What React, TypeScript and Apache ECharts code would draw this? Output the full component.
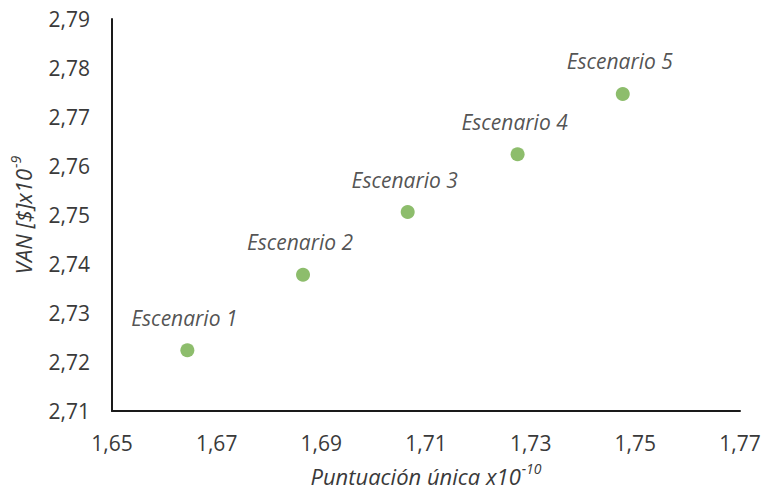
import React, { useEffect, useRef } from "react";
import * as echarts from "echarts";

const scenarios = ["Escenario 1", "Escenario 2", "Escenario 3", "Escenario 4", "Escenario 5"];
const singleScore = [1.6644, 1.6865, 1.7065, 1.7275, 1.7476];
const npv = [2.7224, 2.7378, 2.7506, 2.7624, 2.7747];

const FONT = "'Open Sans', 'Noto Sans', sans-serif";
const TEXT = "#3a3a3a";

const titleRich = {
  t: { fontFamily: FONT, fontSize: 22, fontStyle: "italic", color: TEXT, lineHeight: 26, verticalAlign: "bottom" },
  s: { fontFamily: FONT, fontSize: 14, fontStyle: "italic", color: TEXT, lineHeight: 26, verticalAlign: "top", padding: [0, 0, 0, 1] },
};

export default function App() {
  const ref = useRef<HTMLDivElement>(null);
  useEffect(() => {
    document.body.style.margin = "0";
    const chart = echarts.init(ref.current!, null, { renderer: "svg" });
    chart.setOption({
      animation: false,
      backgroundColor: "#ffffff",
      grid: { left: 112, top: 19, right: 24, bottom: 81, containLabel: false },
      xAxis: {
        type: "value",
        min: 1.65,
        max: 1.77,
        interval: 0.02,
        name: "{t|Puntuación única x10}{s|-10}",
        nameLocation: "middle",
        nameGap: 50,
        nameTextStyle: { rich: titleRich },
        axisLine: { show: true, lineStyle: { color: "#1a1a1a", width: 2 } },
        axisTick: { show: false },
        splitLine: { show: false },
        axisLabel: {
          margin: 21,
          fontFamily: FONT,
          fontSize: 21,
          color: TEXT,
          formatter: (v: number) => v.toFixed(2).replace(".", ","),
        },
      },
      yAxis: {
        type: "value",
        min: 2.71,
        max: 2.79,
        interval: 0.01,
        name: "{t|VAN [$]x10}{s|-9}",
        nameLocation: "middle",
        nameGap: 78,
        nameRotate: 90,
        nameTextStyle: { rich: titleRich },
        axisLine: { show: true, lineStyle: { color: "#1a1a1a", width: 2 } },
        axisTick: { show: false },
        splitLine: { show: false },
        axisLabel: {
          margin: 22,
          fontFamily: FONT,
          fontSize: 21,
          color: TEXT,
          formatter: (v: number) => v.toFixed(2).replace(".", ","),
        },
      },
      series: [
        {
          type: "scatter",
          symbol: "circle",
          symbolSize: 14,
          itemStyle: { color: "#70AD47" },
          data: scenarios.map((name, i) => ({ name, value: [singleScore[i], npv[i]] })),
          label: {
            show: true,
            position: "top",
            distance: 15,
            offset: [-3, 0],
            formatter: (p: any) => p.name,
            fontFamily: FONT,
            fontSize: 21,
            fontStyle: "italic",
            color: "#262626",
          },
        },
      ],
    });
    return () => chart.dispose();
  }, []);
  return <div ref={ref} style={{ width: 764, height: 492 }} />;
}
